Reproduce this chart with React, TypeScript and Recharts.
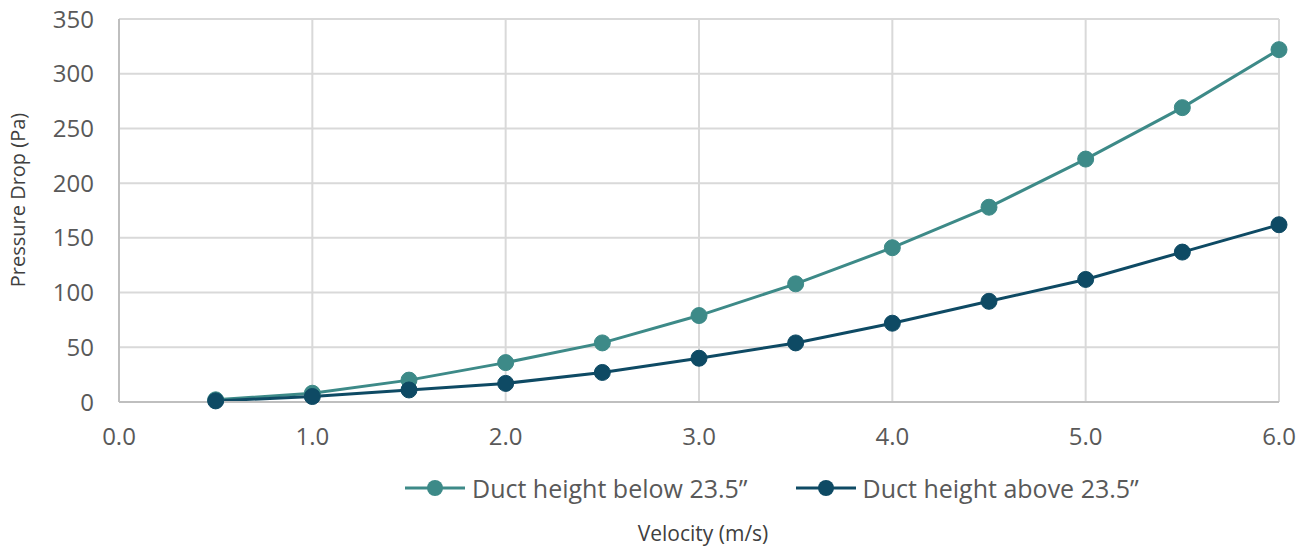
import React from 'react';
import { LineChart, Line, XAxis, YAxis, CartesianGrid, Legend } from 'recharts';

const velocities = [0.5, 1.0, 1.5, 2.0, 2.5, 3.0, 3.5, 4.0, 4.5, 5.0, 5.5, 6.0];
const belowValues = [2, 8, 20, 36, 54, 79, 108, 141, 178, 222, 269, 322];
const aboveValues = [1, 5, 11, 17, 27, 40, 54, 72, 92, 112, 137, 162];
const xTicks = [0, 1, 2, 3, 4, 5, 6];
const yTicks = [0, 50, 100, 150, 200, 250, 300, 350];
const seriesNames = ['Duct height below 23.5\u201d', 'Duct height above 23.5\u201d'];
const xTitle = 'Velocity (m/s)';
const yTitle = 'Pressure Drop (Pa)';

const TEAL = '#3d8a88';
const DARK = '#0e4a64';
const FONT = '"Open Sans", "Noto Sans", sans-serif';

const data = velocities.map((v, i) => ({ v, below: belowValues[i], above: aboveValues[i] }));

const LegendContent = () => {
  const items = [
    { name: seriesNames[0], color: TEAL },
    { name: seriesNames[1], color: DARK },
  ];
  return (
    <div style={{ display: 'flex', alignItems: 'center', paddingLeft: 405, fontFamily: FONT, fontSize: 25, color: '#595959', lineHeight: '30px' }}>
      {items.map((it, idx) => (
        <div key={idx} style={{ display: 'flex', alignItems: 'center', marginLeft: idx === 0 ? 0 : 48 }}>
          <svg width={60} height={20} style={{ marginRight: 7 }}>
            <line x1={0} y1={10} x2={60} y2={10} stroke={it.color} strokeWidth={3} />
            <circle cx={30} cy={10} r={8} fill={it.color} />
          </svg>
          <span>{it.name}</span>
        </div>
      ))}
    </div>
  );
};

const XTitle = (props: any) => {
  const vb = props.viewBox || {};
  const cx = (vb.x ?? 0) + (vb.width ?? 0) / 2 + 4;
  return (
    <text x={cx} y={541} textAnchor="middle" fill="#404040" fontSize={21} fontFamily={FONT}>
      {xTitle}
    </text>
  );
};

const YTitle = () => (
  <text x={25} y={200} transform="rotate(-90 25 200)" textAnchor="middle" fill="#404040" fontSize={20} fontFamily={FONT}>
    {yTitle}
  </text>
);

export default function App() {
  return (
    <div style={{ position: 'absolute', left: 0, top: 0, width: 1308, height: 548, background: '#fff' }}>
      <LineChart width={1308} height={548} data={data} margin={{ top: 19, right: 29, left: 0, bottom: 0 }}>
        <CartesianGrid stroke="#d9d9d9" strokeWidth={2} horizontal vertical />
        <XAxis
          dataKey="v"
          type="number"
          domain={[0, 6]}
          ticks={xTicks}
          tickFormatter={(t: number) => t.toFixed(1)}
          height={146}
          tickLine={false}
          axisLine={{ stroke: '#bfbfbf', strokeWidth: 2 }}
          tickMargin={20}
          tick={{ fill: '#595959', fontSize: 24, fontFamily: FONT }}
          label={<XTitle />}
        />
        <YAxis
          type="number"
          domain={[0, 350]}
          ticks={yTicks}
          width={119}
          tickLine={false}
          axisLine={{ stroke: '#bfbfbf', strokeWidth: 2 }}
          tickMargin={19}
          tick={{ fill: '#595959', fontSize: 24, fontFamily: FONT }}
          label={<YTitle />}
        />
        <Legend
          layout="horizontal"
          verticalAlign="middle"
          align="center"
          content={<LegendContent />}
          wrapperStyle={{ top: 473, left: 0, width: 1308 }}
        />
        <Line
          type="linear"
          dataKey="below"
          name={seriesNames[0]}
          stroke={TEAL}
          strokeWidth={3}
          dot={{ r: 8, fill: TEAL, stroke: TEAL, strokeWidth: 1 }}
          isAnimationActive={false}
        />
        <Line
          type="linear"
          dataKey="above"
          name={seriesNames[1]}
          stroke={DARK}
          strokeWidth={3}
          dot={{ r: 8, fill: DARK, stroke: DARK, strokeWidth: 1 }}
          isAnimationActive={false}
        />
      </LineChart>
    </div>
  );
}
